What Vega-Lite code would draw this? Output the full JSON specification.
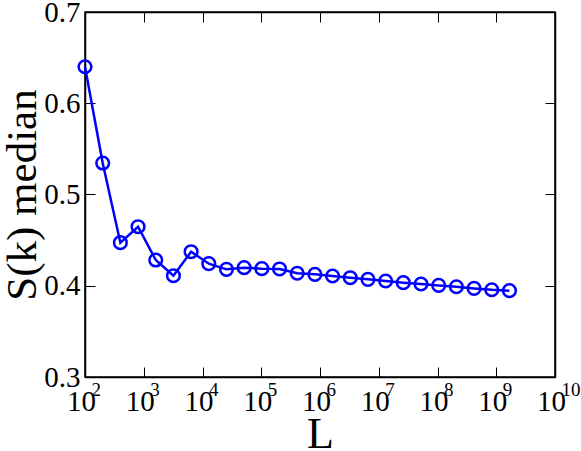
{
  "$schema": "https://vega.github.io/schema/vega-lite/v6.json",
  "width": 470,
  "height": 365,
  "autosize": "none",
  "padding": {"left": 85, "top": 12, "right": 26, "bottom": 74},
  "background": "white",
  "config": {
    "view": {"stroke": "black", "strokeWidth": 1.5},
    "axis": {
      "grid": false,
      "domainColor": "black",
      "domainWidth": 1.5,
      "tickColor": "black",
      "tickWidth": 1,
      "tickSize": -10,
      "labelFont": "Liberation Serif, Times New Roman, serif",
      "labelColor": "black",
      "titleFont": "Liberation Serif, Times New Roman, serif",
      "titleColor": "black",
      "titleFontWeight": "normal"
    }
  },
  "data": {
    "values": [
      {"L": 100, "S": 0.640},
      {"L": 200, "S": 0.5345},
      {"L": 400, "S": 0.4472},
      {"L": 800, "S": 0.4647},
      {"L": 1600, "S": 0.4282},
      {"L": 3200, "S": 0.4110},
      {"L": 6400, "S": 0.4373},
      {"L": 12800, "S": 0.4242},
      {"L": 25600, "S": 0.4180},
      {"L": 51200, "S": 0.4198},
      {"L": 102400, "S": 0.4187},
      {"L": 204800, "S": 0.4184},
      {"L": 409600, "S": 0.4137},
      {"L": 819200, "S": 0.4125},
      {"L": 1638400, "S": 0.4107},
      {"L": 3276800, "S": 0.4088},
      {"L": 6553600, "S": 0.4070},
      {"L": 13107200, "S": 0.4052},
      {"L": 26214400, "S": 0.4034},
      {"L": 52428800, "S": 0.4019},
      {"L": 104857600, "S": 0.4004},
      {"L": 209715200, "S": 0.3989},
      {"L": 419430400, "S": 0.3971},
      {"L": 838860800, "S": 0.3956},
      {"L": 1677721600, "S": 0.3946}
    ]
  },
  "layer": [
    {
      "mark": {"type": "line", "color": "#0000ff", "strokeWidth": 2.5},
      "encoding": {
        "x": {
          "field": "L", "type": "quantitative",
          "scale": {"type": "log", "domain": [100, 10000000000], "nice": false},
          "axis": {
            "orient": "bottom",
            "offset": 0,
            "values": [100, 1000, 10000, 100000, 1000000, 10000000, 100000000, 1000000000, 10000000000],
            "labelExpr": "'10'",
            "labelFontSize": 29,
            "labelPadding": 20,
            "labelOffset": -4,
            "labelFlush": false,
            "labelOverlap": false,
            "title": "L",
            "titleFontSize": 44,
            "titleBaseline": "alphabetic",
            "titleY": 70
          }
        },
        "y": {
          "field": "S", "type": "quantitative",
          "scale": {"domain": [0.3, 0.7], "nice": false, "zero": false},
          "axis": {
            "orient": "left",
            "values": [0.3, 0.4, 0.5, 0.6, 0.7],
            "format": ".1f",
            "labelFontSize": 29,
            "labelPadding": 15,
            "labelFlush": false,
            "labelOverlap": false,
            "title": "S(k) median",
            "titleFontSize": 43,
            "titleBaseline": "top",
            "titleX": -84
          }
        }
      }
    },
    {
      "mark": {"type": "point", "shape": "circle", "filled": false, "color": "#0000ff", "size": 160, "strokeWidth": 2.5, "opacity": 1},
      "encoding": {
        "x": {
          "field": "L", "type": "quantitative",
          "scale": {"type": "log", "domain": [100, 10000000000], "nice": false},
          "axis": {
            "orient": "top",
            "values": [100, 1000, 10000, 100000, 1000000, 10000000, 100000000, 1000000000, 10000000000],
            "labels": false,
            "title": null
          }
        },
        "y": {
          "field": "S", "type": "quantitative",
          "scale": {"domain": [0.3, 0.7], "nice": false, "zero": false},
          "axis": {
            "orient": "right",
            "values": [0.3, 0.4, 0.5, 0.6, 0.7],
            "labels": false,
            "title": null
          }
        }
      }
    },
    {
      "mark": {"type": "point", "opacity": 0},
      "encoding": {
        "x": {
          "field": "L", "type": "quantitative",
          "scale": {"type": "log", "domain": [100, 10000000000], "nice": false},
          "axis": {
            "orient": "bottom",
            "offset": 0,
            "values": [100, 1000, 10000, 100000, 1000000, 10000000, 100000000, 1000000000, 10000000000],
            "labelExpr": "format(round(log(datum.value)/LN10), 'd')",
            "labelFontSize": 19,
            "labelAlign": "left",
            "labelOffset": 6,
            "labelPadding": 3,
            "labelFlush": false,
            "labelOverlap": false,
            "domain": false,
            "ticks": false,
            "title": null
          }
        },
        "y": {
          "field": "S", "type": "quantitative",
          "scale": {"domain": [0.3, 0.7], "nice": false, "zero": false},
          "axis": null
        }
      }
    }
  ],
  "resolve": {"axis": {"x": "independent", "y": "independent"}}
}
